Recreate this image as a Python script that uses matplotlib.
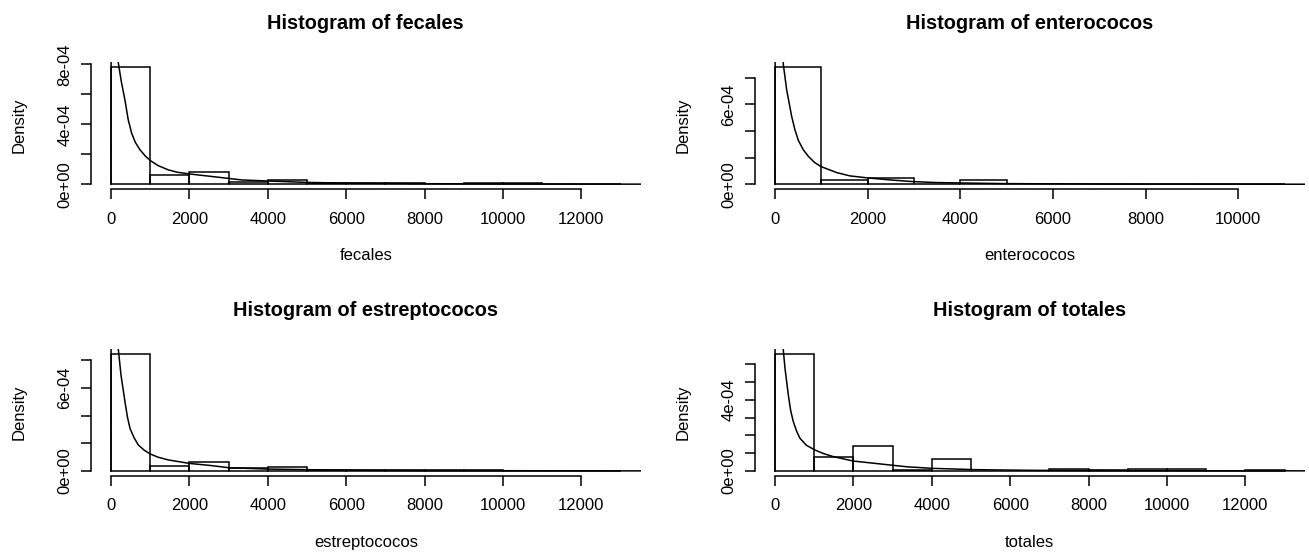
import matplotlib
matplotlib.use("Agg")
import matplotlib.pyplot as plt
import numpy as np

plt.rcParams["font.family"] = ["Liberation Sans", "DejaVu Sans"]

BIN_WIDTH = 1000
FIG_W, FIG_H = 1309, 556

# histogram densities (units of 1e-4) for consecutive 1000-wide bins starting at 0
fecales_hist = [7.84, 0.64, 0.80, 0.15, 0.27, 0.10, 0.10, 0.10, 0.0, 0.10, 0.10, 0.0, 0.02]
enterococos_hist = [8.83, 0.30, 0.50, 0.05, 0.32, 0.0, 0.0, 0.0, 0.0, 0.0, 0.02]
estreptococos_hist = [8.46, 0.39, 0.63, 0.19, 0.31, 0.06, 0.06, 0.06, 0.06, 0.06, 0.0, 0.0, 0.02]
totales_hist = [6.58, 0.80, 1.42, 0.06, 0.68, 0.02, 0.02, 0.13, 0.03, 0.13, 0.13, 0.02, 0.06]

# fitted density curve (x, density in 1e-4)
fecales_curve_x = [0, 10, 187, 260, 357, 440, 528, 620, 740, 870, 1004, 1200, 1464, 1700, 2000,
                   2740, 3336, 4000, 4950, 6000, 8000, 10000, 13520]
fecales_curve_y = [0, 30, 8.1, 6.9, 5.6, 4.3, 3.4, 2.8, 2.3, 1.9, 1.58, 1.25, 0.96, 0.80, 0.69,
                   0.47, 0.29, 0.22, 0.13, 0.08, 0.04, 0.02, 0.01]
enterococos_curve_x = [0, 10, 180, 252, 360, 430, 504, 610, 720, 850, 993, 1331, 1619, 2000,
                       2482, 2986, 3490, 4000, 5000, 7000, 11440]
enterococos_curve_y = [0, 30, 9.0, 7.1, 5.1, 4.1, 3.3, 2.6, 2.1, 1.65, 1.33, 0.88, 0.63, 0.48,
                       0.33, 0.20, 0.13, 0.10, 0.05, 0.02, 0.005]
estreptococos_curve_x = [0, 10, 187, 255, 357, 420, 485, 590, 698, 850, 1004, 1200, 1464, 2000,
                         2570, 3000, 4000, 4950, 6000, 8000, 13520]
estreptococos_curve_y = [0, 30, 8.8, 6.94, 5.0, 3.9, 3.08, 2.4, 1.88, 1.5, 1.23, 1.0, 0.80, 0.55,
                         0.39, 0.24, 0.14, 0.10, 0.06, 0.03, 0.01]
totales_curve_x = [0, 10, 212, 255, 340, 400, 467, 550, 637, 800, 1020, 1250, 1487, 2000,
                   2761, 3356, 4000, 5140, 6500, 9000, 13520]
totales_curve_y = [0, 30, 6.8, 5.78, 4.28, 3.4, 2.78, 2.25, 1.84, 1.45, 1.18, 0.97, 0.81, 0.56,
                   0.38, 0.24, 0.15, 0.075, 0.04, 0.02, 0.01]

names = ["fecales", "enterococos", "estreptococos", "totales"]
hists = [fecales_hist, enterococos_hist, estreptococos_hist, totales_hist]
curves = [(fecales_curve_x, fecales_curve_y), (enterococos_curve_x, enterococos_curve_y),
          (estreptococos_curve_x, estreptococos_curve_y), (totales_curve_x, totales_curve_y)]

x_ticks = [[0, 2000, 4000, 6000, 8000, 10000, 12000],
           [0, 2000, 4000, 6000, 8000, 10000],
           [0, 2000, 4000, 6000, 8000, 10000, 12000],
           [0, 2000, 4000, 6000, 8000, 10000, 12000]]
y_ticks = [[0, 2e-4, 4e-4, 6e-4, 8e-4],
           [0, 2e-4, 4e-4, 6e-4, 8e-4],
           [0, 2e-4, 4e-4, 6e-4, 8e-4],
           [0, 1e-4, 2e-4, 3e-4, 4e-4, 5e-4, 6e-4]]
y_tick_labels = [["0e+00", "", "4e-04", "", "8e-04"],
                 ["0e+00", "", "", "6e-04", ""],
                 ["0e+00", "", "", "6e-04", ""],
                 ["0e+00", "", "", "", "4e-04", "", ""]]

# plot regions in pixels: left, top, right, bottom
regions = [(90.6, 62, 641, 189), (754.6, 62, 1305, 189),
           (90.6, 349.3, 641, 475.7), (754.6, 349.3, 1305, 475.7)]

LW = 1.1
fig = plt.figure(figsize=(FIG_W / 100, FIG_H / 100), dpi=100)

for i, name in enumerate(names):
    l, t, r, b = regions[i]
    ax = fig.add_axes([l / FIG_W, (FIG_H - b) / FIG_H, (r - l) / FIG_W, (b - t) / FIG_H])

    dens = np.array(hists[i]) * 1e-4
    edges = np.arange(len(dens) + 1) * BIN_WIDTH
    ax.bar(edges[:-1], dens, width=BIN_WIDTH, align="edge", fill=False,
           edgecolor="black", linewidth=LW)

    cx, cy = curves[i]
    ax.plot(cx, np.array(cy) * 1e-4, color="black", linewidth=LW)

    span = edges[-1] - edges[0]
    ax.set_xlim(edges[0] - 0.04 * span, edges[-1] + 0.04 * span)
    ymax = dens.max()
    ax.set_ylim(-0.04 * ymax, 1.04 * ymax)

    ax.set_xticks(x_ticks[i])
    ax.set_xticklabels([str(v) for v in x_ticks[i]])
    ax.set_yticks(y_ticks[i])
    ax.set_yticklabels(y_tick_labels[i], rotation=90, va="center")
    ax.tick_params(axis="both", direction="out", length=7.2, width=LW, labelsize=12)
    ax.tick_params(axis="x", pad=9)
    ax.tick_params(axis="y", pad=5.8)

    for side in ("top", "right"):
        ax.spines[side].set_visible(False)
    ax.spines["bottom"].set_bounds(x_ticks[i][0], x_ticks[i][-1])
    ax.spines["left"].set_bounds(y_ticks[i][0], y_ticks[i][-1])
    ax.spines["bottom"].set_linewidth(LW)
    ax.spines["left"].set_linewidth(LW)

    ax.set_title(f"Histogram of {name}", fontsize=14.4, fontweight="bold", pad=23.8)
    ax.annotate(name, xy=(0.5, 0), xycoords="axes fraction", xytext=(0, -48),
                textcoords="offset points", ha="center", va="center", fontsize=12)
    ax.annotate("Density", xy=(0, 0.5), xycoords="axes fraction", xytext=(-51.5, 0),
                textcoords="offset points", ha="center", va="center", fontsize=12,
                rotation=90)

fig.savefig("out.png", dpi=100)
plt.close(fig)
